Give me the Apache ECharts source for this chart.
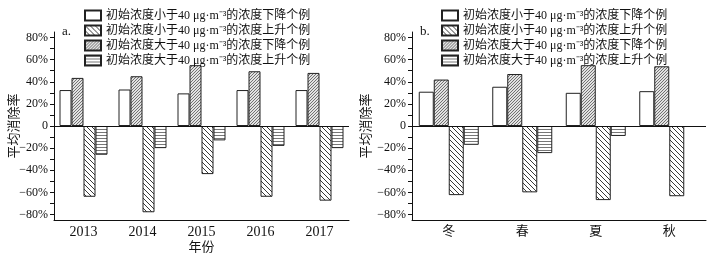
<!DOCTYPE html>
<html><head><meta charset="utf-8">
<script src="https://cdn.jsdelivr.net/npm/echarts@6/dist/echarts.min.js"></script>
<style>html,body{margin:0;padding:0;background:#fff}#c{width:718px;height:260px}</style>
</head><body><div id="c"></div>
<script>
// ---- data ----
const yearCats = ['2013', '2014', '2015', '2016', '2017'];
const seasonCats = ['冬', '春', '夏', '秋'];
const seriesNames = [
  '初始浓度小于40 μg·m⁻³的浓度下降个例',
  '初始浓度小于40 μg·m⁻³的浓度上升个例',
  '初始浓度大于40 μg·m⁻³的浓度下降个例',
  '初始浓度大于40 μg·m⁻³的浓度上升个例'
];
// panel a (by year)
const yearLowDown  = [32.5, 33, 29.5, 32.5, 32.5];
const yearLowUp    = [-64, -78, -43.5, -64, -67.5];
const yearHighDown = [43.5, 45, 55, 49.5, 48];
const yearHighUp   = [-26, -20, -13, -18, -20];
// panel b (by season)
const seasonLowDown  = [31, 35.5, 30, 31.5];
const seasonLowUp    = [-62.5, -60, -67, -63.5];
const seasonHighDown = [42, 47, 55, 54];
const seasonHighUp   = [-17, -24.5, -9, null];
const yLabelValues = [-80, -60, -40, -20, 0, 20, 40, 60, 80];
const yTickValues = [-80, -70, -60, -50, -40, -30, -20, -10, 0, 10, 20, 30, 40, 50, 60, 70, 80];

// ---- patterns ----
function makePattern(type) {
  const c = document.createElement('canvas');
  const ctx = c.getContext('2d');
  if (type === 'back') {
    const s = 5; c.width = s; c.height = s;
    ctx.fillStyle = '#fff'; ctx.fillRect(0, 0, s, s);
    ctx.strokeStyle = '#222'; ctx.lineWidth = 0.9;
    ctx.beginPath();
    for (let k = -1; k <= 1; k++) { ctx.moveTo(k * s, 0); ctx.lineTo(k * s + s, s); }
    ctx.stroke();
  } else if (type === 'fwd') {
    const s = 3; c.width = s; c.height = s;
    ctx.fillStyle = '#e2e2e2'; ctx.fillRect(0, 0, s, s);
    ctx.strokeStyle = '#555'; ctx.lineWidth = 0.8;
    ctx.beginPath();
    for (let k = -1; k <= 1; k++) { ctx.moveTo(k * s, s); ctx.lineTo(k * s + s, 0); }
    ctx.stroke();
  } else {
    c.width = 4; c.height = 3;
    ctx.fillStyle = '#fff'; ctx.fillRect(0, 0, 4, 3);
    ctx.fillStyle = '#777'; ctx.fillRect(0, 0, 4, 1);
  }
  return { image: c, repeat: 'repeat' };
}
const fills = ['#ffffff', makePattern('back'), makePattern('fwd'), makePattern('horiz')];

const SERIF = "'Liberation Serif', 'Noto Sans CJK SC', serif";

function yAxisFor(gridIndex, nameGap) {
  return {
    type: 'value', gridIndex, min: -85, max: 85,
    name: '平均消除率', nameLocation: 'middle', nameRotate: 90, nameGap,
    nameMoveOverlap: false,
    nameTextStyle: { fontFamily: SERIF, fontSize: 13, color: '#111' },
    axisLine: { show: true, lineStyle: { color: '#111', width: 1 } },
    axisTick: { show: true, length: 4, customValues: yTickValues, lineStyle: { color: '#111' } },
    axisLabel: {
      customValues: yLabelValues, margin: 6, fontFamily: SERIF, fontSize: 12, color: '#111',
      formatter: v => v === 0 ? '0' : (v < 0 ? '−' : '') + Math.abs(v) + '%'
    },
    splitLine: { show: false }
  };
}
function xAxesFor(gridIndex, cats, fontSize, name) {
  return [{
    type: 'category', gridIndex, data: cats, position: 'bottom',
    name: name || '', nameLocation: 'middle', nameGap: 21, nameMoveOverlap: false,
    nameTextStyle: { fontFamily: SERIF, fontSize: 13, color: '#111' },
    axisLine: { onZero: false, lineStyle: { color: '#111', width: 1 } },
    axisTick: { inside: true, alignWithLabel: true, length: 4, lineStyle: { color: '#111' } },
    axisLabel: { margin: 5, fontFamily: SERIF, fontSize, color: '#111' },
    splitLine: { show: false }
  }, {
    type: 'category', gridIndex, data: cats, position: 'bottom',
    axisLine: { show: false, onZero: false },
    axisTick: { inside: true, alignWithLabel: false, length: 3, lineStyle: { color: '#111' } },
    axisLabel: { show: false }, splitLine: { show: false }
  }];
}

function barSeries(xIdx, yIdx, arrs, barWidth) {
  // bar order in group: lowDown, highDown, lowUp, highUp
  const order = [0, 2, 1, 3];
  return order.map((k, i) => {
    const s = {
      type: 'bar', name: seriesNames[k], xAxisIndex: xIdx, yAxisIndex: yIdx,
      data: arrs[k], barWidth, barGap: '0%',
      itemStyle: { color: fills[k], borderColor: '#222', borderWidth: 1 },
      emphasis: { disabled: true }, animation: false
    };
    if (i === 0) {
      s.markLine = {
        silent: true, symbol: 'none', label: { show: false },
        lineStyle: { color: '#111', width: 1, type: 'solid' },
        data: [{ yAxis: 0 }], animation: false
      };
    }
    return s;
  });
}

const legendCommon = {
  orient: 'vertical', top: 8, padding: 0, itemWidth: 16, itemHeight: 10, itemGap: 0,
  icon: 'rect',
  data: seriesNames, selectedMode: false,
  textStyle: { fontFamily: SERIF, fontSize: 12, color: '#111', lineHeight: 15 }
};

const chart = echarts.init(document.getElementById('c'), null, { renderer: 'canvas' });
chart.setOption({
  backgroundColor: '#fff',
  animation: false,
  grid: [
    { left: 54, top: 32, width: 295, height: 188 },
    { left: 412, top: 32, width: 294, height: 188 }
  ],
  legend: [
    Object.assign({}, legendCommon, { left: 84 }),
    Object.assign({}, legendCommon, { left: 441 })
  ],
  xAxis: [...xAxesFor(0, yearCats, 14, '年份'), ...xAxesFor(1, seasonCats, 13)],
  yAxis: [yAxisFor(0, 33), yAxisFor(1, 39)],
  series: [
    ...barSeries(0, 0, [yearLowDown, yearLowUp, yearHighDown, yearHighUp], 12),
    ...barSeries(2, 1, [seasonLowDown, seasonLowUp, seasonHighDown, seasonHighUp], 15)
  ],
  graphic: [
    { type: 'text', left: 62, top: 25, style: { text: 'a.', font: "13px " + SERIF, fill: '#111' } },
    { type: 'text', left: 420, top: 25, style: { text: 'b.', font: "13px " + SERIF, fill: '#111' } }
  ]
});
</script>
</body></html>
